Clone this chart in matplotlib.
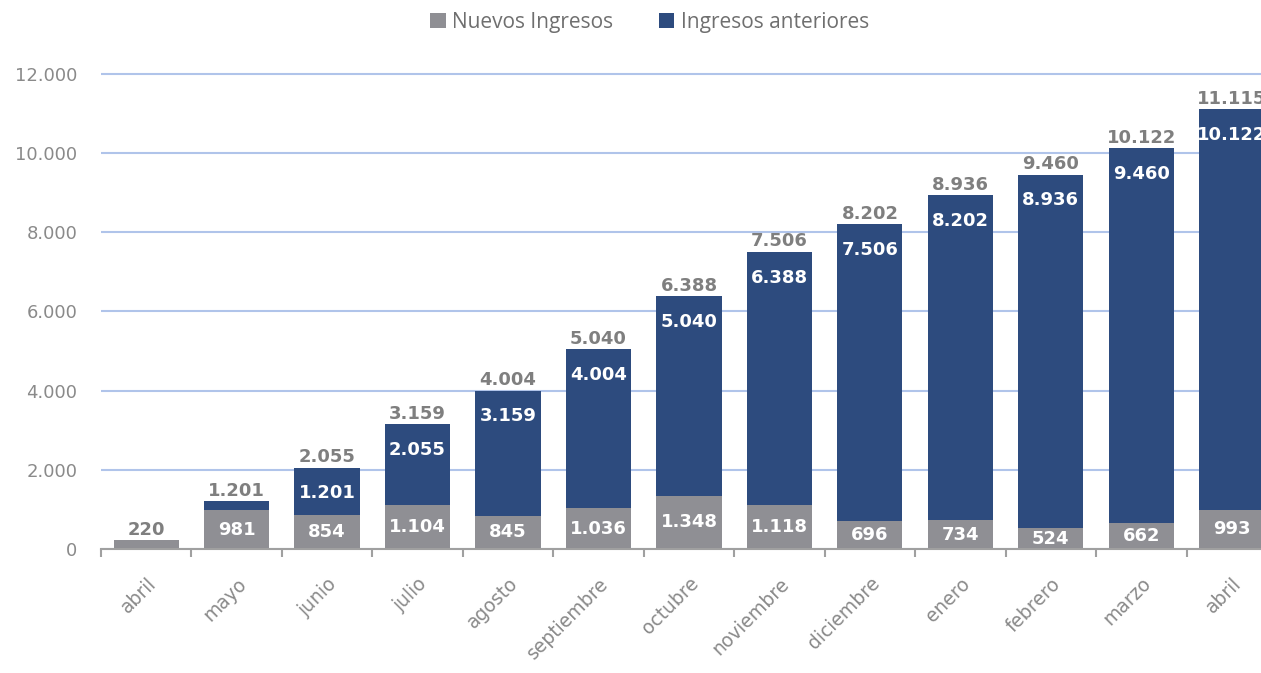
import numpy as np
import matplotlib.pyplot as plt
from matplotlib.ticker import FuncFormatter

# Data
meses = ['abril', 'mayo', 'junio', 'julio', 'agosto', 'septiembre', 'octubre',
         'noviembre', 'diciembre', 'enero', 'febrero', 'marzo', 'abril']
nuevos = [220, 981, 854, 1104, 845, 1036, 1348, 1118, 696, 734, 524, 662, 993]
anteriores = [0, 220, 1201, 2055, 3159, 4004, 5040, 6388, 7506, 8202, 8936, 9460, 10122]

GRIS = '#8f8f94'
AZUL = '#2d4b7e'
TXT = '#7f7f7f'

def fmt(v):
    return f'{v:,.0f}'.replace(',', '.')

fig = plt.figure(figsize=(12.61, 6.73), dpi=100)
ax = fig.add_axes([0.080, 0.1842, 0.9327, 0.7118])

x = np.arange(len(meses))
nuevos = np.array(nuevos)
anteriores = np.array(anteriores)
totales = nuevos + anteriores
w = 0.72

ax.bar(x, nuevos, w, color=GRIS, label='Nuevos Ingresos', zorder=2)
ax.bar(x, anteriores, w, bottom=nuevos, color=AZUL, label='Ingresos anteriores', zorder=2)

lbl = dict(fontsize=13, fontweight='bold', ha='center', va='center')
for i in range(len(x)):
    # gray segment label
    if anteriores[i] > 0:
        ax.text(x[i], nuevos[i] / 2, fmt(nuevos[i]), color='white', zorder=3, **lbl)
    # navy segment label (inside end)
    if anteriores[i] >= 1000:
        ax.annotate(fmt(anteriores[i]), (x[i], totales[i]), xytext=(0, -18.5),
                    textcoords='offset points', color='white', zorder=3, **lbl)
    # total label
    ax.annotate(fmt(totales[i]), (x[i], totales[i]), xytext=(0, 7.5),
                textcoords='offset points', color=TXT, zorder=3,
                annotation_clip=False, **lbl)

ax.set_xlim(-0.5, len(meses) - 0.5)
ax.set_ylim(0, 12100)
ax.set_yticks(np.arange(0, 12001, 2000))
ax.yaxis.set_major_formatter(FuncFormatter(lambda v, p: fmt(v)))
ax.grid(axis='y', color='#b0c4ea', linewidth=1.5, zorder=0)
ax.set_axisbelow(True)

for s in ['top', 'right', 'left']:
    ax.spines[s].set_visible(False)
ax.spines['bottom'].set_color('#a0a0a0')
ax.spines['bottom'].set_linewidth(1.5)

ax.tick_params(axis='y', length=0, labelsize=13, labelcolor='#8a8a8a', pad=17)
ax.set_xticks(x)
ax.set_xticklabels(meses, rotation=45, ha='right', rotation_mode='anchor')
ax.tick_params(axis='x', which='major', length=0, labelsize=13.5, labelcolor='#8a8a8a', pad=18)
ax.set_xticks(np.arange(-0.5, len(meses), 1), minor=True)
ax.tick_params(axis='x', which='minor', length=6, width=1.5, color='#a0a0a0', direction='out')
for t in ax.get_xticklabels() + ax.get_yticklabels():
    t.set_family('DejaVu Sans')

leg = fig.legend(loc='center', bbox_to_anchor=(0.515, 0.967), ncol=2, frameon=False,
                 fontsize=15, handlelength=0.75, handleheight=0.75, handletextpad=0.3,
                 columnspacing=2.2, labelcolor='#6f6f6f')
for t in leg.get_texts():
    t.set_family('Open Sans')

fig.savefig('out.png', dpi=100)
